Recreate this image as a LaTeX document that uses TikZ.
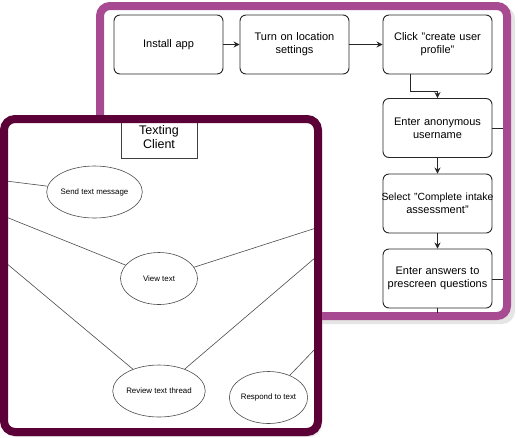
\documentclass[tikz,border=0pt]{standalone}
\usepackage{fontspec}
\setmainfont{Liberation Sans}
\usetikzlibrary{arrows.meta,shapes.geometric}
\definecolor{backc}{HTML}{A84A92}
\definecolor{frontc}{HTML}{5C0038}
\begin{document}
\begin{tikzpicture}[x=1pt,y=-1pt,
  flow/.style={draw=black!85, line width=0.9pt, rounded corners=6pt, fill=white,
    font=\fontsize{11}{12.7}\selectfont, align=center, text width=109pt,
    minimum width=109pt, minimum height=59pt, inner sep=0pt},
  arr/.style={draw=black!85, line width=0.9pt, -{Stealth[length=6pt,width=6pt]}},
  uc/.style={draw=black!70, line width=0.6pt, ellipse, fill=white,
    font=\fontsize{7.9}{9}\selectfont, minimum width=77pt, minimum height=52pt, inner sep=0pt},
  conn/.style={draw=black!70, line width=0.6pt},
  panelshadow/.style={fill=black!10, rounded corners=13pt},
]
\useasboundingbox (0,0) rectangle (518,437);

% back panel
\fill[panelshadow] (99,6) rectangle (515,324);
\draw[backc, line width=8pt, fill=white, rounded corners=10pt] (100,6) rectangle (507,316);

\node[flow] (n1) at (168.5,44.5) {Install app};
\node[flow] (n2) at (294.5,44.5) {Turn on location\\settings};
\node[flow] (n3) at (437.5,44.5) {Click "create user\\profile"};
\node[flow] (n4) at (437.5,128) {Enter anonymous\\username};
\node[flow] (n5) at (437.5,203.5) {\makebox[109pt][c]{\fontsize{10.4}{12.7}\selectfont Select "Complete intake}\\assessment"};
\node[flow] (n6) at (437.5,278.5) {Enter answers to\\prescreen questions};
\coordinate (b4) at (503,128);
\coordinate (b6) at (503,279);
\coordinate (b7) at (437.5,313);

\draw[arr] (n1) -- (n2);
\draw[arr] (n2) -- (n3);
\draw[arr] (n3.south -| 410,0) -- (410,91) -- (437.5,91) -- (n4.north);
\draw[arr] (n4) -- (n5);
\draw[arr] (n5) -- (n6);
\draw[draw=black!85, line width=0.9pt] (n4.east) -- (b4);
\draw[draw=black!85, line width=0.9pt] (n6.east |- b6) -- (b6);
\draw[draw=black!85, line width=0.9pt] (n6.south) -- (b7);

% front panel
\fill[panelshadow] (3,122) rectangle (322,437);
\fill[white, rounded corners=11pt] (4,119) rectangle (318,432);
\begin{scope}
\clip (8,123) rectangle (314,428);
\node[draw=black!75, line width=0.7pt, minimum width=76pt, minimum height=44pt,
  inner sep=0pt, align=center, font=\fontsize{12.5}{14}\selectfont, anchor=south]
  (title) at (159,159) {Texting\\Client};
\node[uc] (send) at (94.5,192) {Send text message};
\node[uc] (view) at (159,278.5) {View text};
\node[uc] (review) at (159,391) {Review text thread};
\node[uc] (respond) at (268.5,397.5) {Respond to text};
\coordinate (l1) at (6,181);
\coordinate (l2) at (6,217);
\coordinate (l3) at (6,263);
\coordinate (r1) at (316,228);
\coordinate (r2) at (316,257);
\coordinate (r3) at (316,348);
\draw[conn] (l1) -- (send);
\draw[conn] (l2) -- (view);
\draw[conn] (l3) -- (review);
\draw[conn] (view) -- (r1);
\draw[conn] (review) -- (r2);
\draw[conn] (respond) -- (r3);
\end{scope}
\draw[frontc, line width=8pt, rounded corners=11pt] (4,119) rectangle (318,432);
\end{tikzpicture}
\end{document}
